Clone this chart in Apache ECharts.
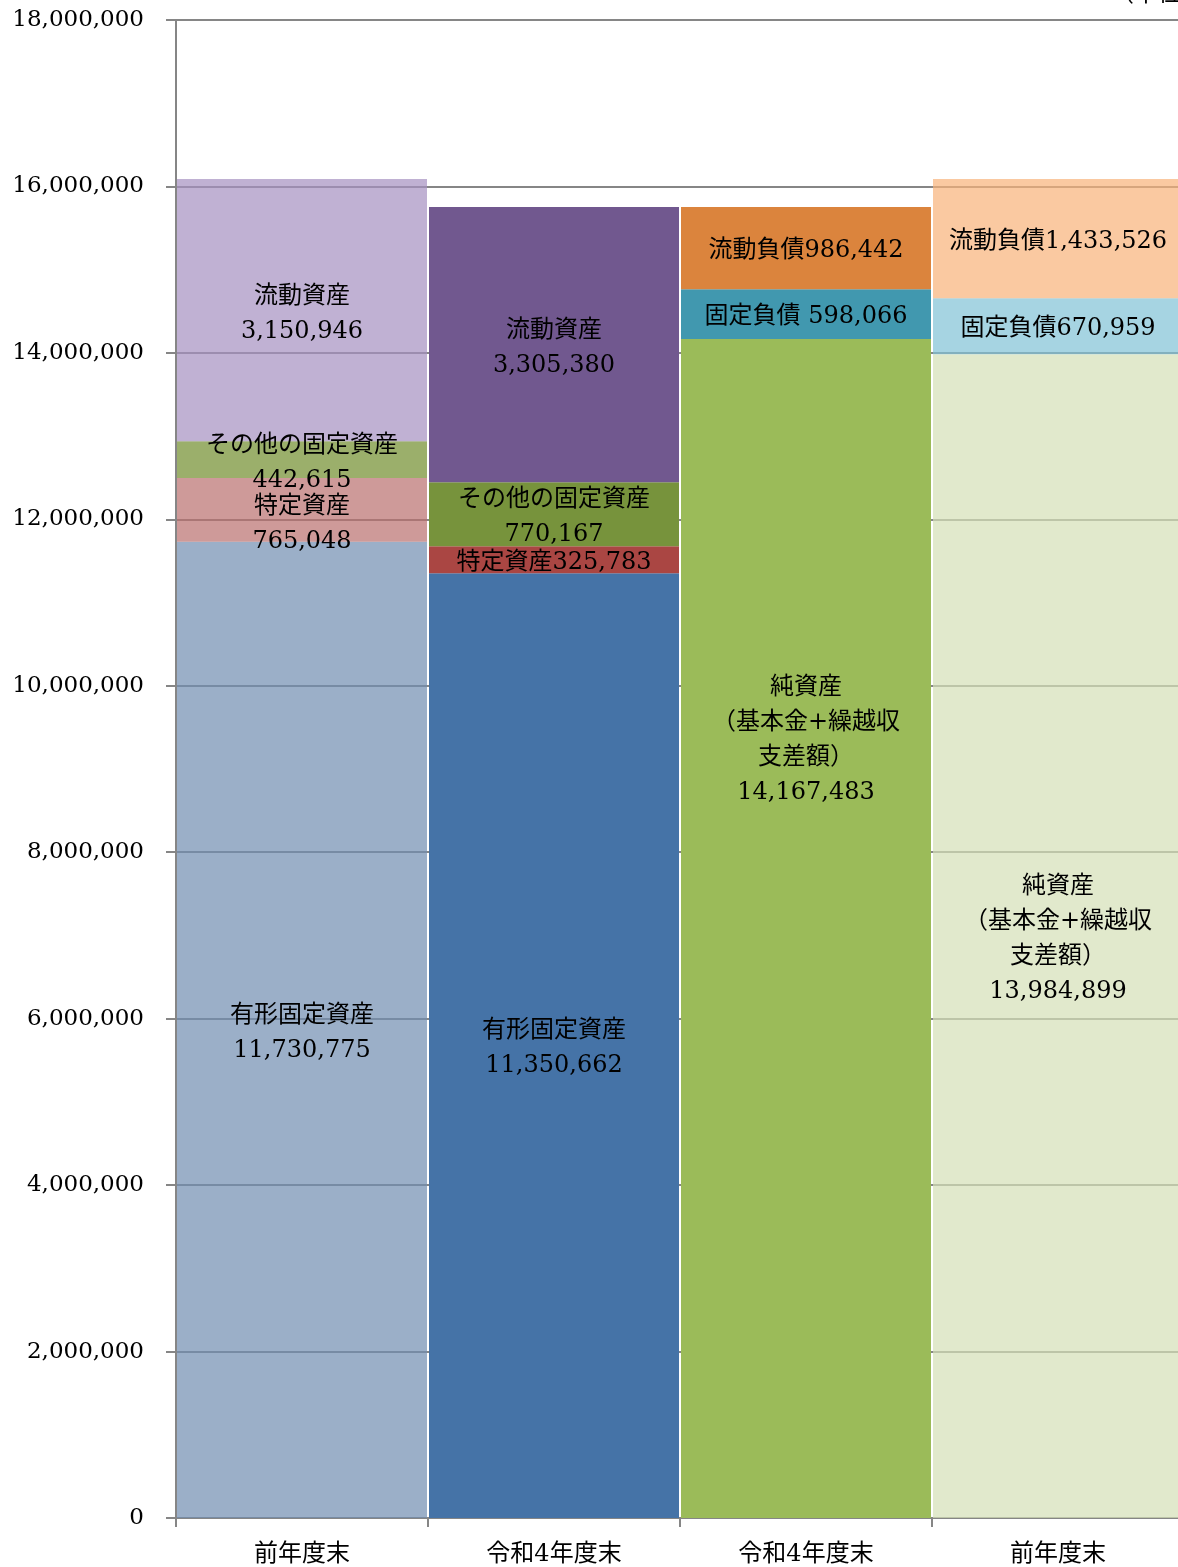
<!DOCTYPE html>
<html lang="ja" style="height: 100%; overflow: hidden">
  <head>
    <meta charset="utf-8" />
    <script src="https://cdn.jsdelivr.net/npm/echarts@6/dist/echarts.min.js"></script>
  </head>
  <body style="height: 100%; margin: 0; background: #fff; overflow: hidden">
    <div id="container" style="width: 1186px; height: 1567px"></div>
    <script type="text/javascript">
      // 区分
      const categories = ["前年度末", "令和4年度末", "令和4年度末", "前年度末"];

      // 下から順に積み上げる
      const layer1 = [11730775, 11350662, 14167483, 13984899];
      const layer2 = [765048, 325783, 598066, 670959];
      const layer3 = [442615, 770167, "-", "-"];
      const layer4 = [3150946, 3305380, 986442, 1433526];

      const names1 = ["有形固定資産", "有形固定資産", "純資産\n（基本金+繰越収\n支差額）", "純資産\n（基本金+繰越収\n支差額）"];
      const names2 = ["特定資産", "特定資産", "固定負債", "固定負債"];
      const names3 = ["その他の固定資産", "その他の固定資産", "", ""];
      const names4 = ["流動資産", "流動資産", "流動負債", "流動負債"];

      // 名前と金額の区切り
      const sep1 = ["\n", "\n", "\n", "\n"];
      const sep2 = ["\n", "", " ", ""];
      const sep3 = ["\n", "\n", "", ""];
      const sep4 = ["\n", "\n", "", ""];

      const yTicks = [0, 2000000, 4000000, 6000000, 8000000, 10000000, 12000000, 14000000, 16000000, 18000000];

      // 色（前年度末は半透明で目盛線が透ける）
      const colors1 = ["rgba(112,141,176,0.7)", "#4573A7", "#9BBB59", "rgba(212,224,182,0.7)"];
      const colors2 = ["rgba(185,111,109,0.7)", "#AA4643", "#4198AF", "rgba(128,194,214,0.7)"];
      const colors3 = ["rgba(112,141,44,0.7)", "#77933C", "#fff", "#fff"];
      const colors4 = ["rgba(165,144,192,0.7)", "#71588F", "#DB843D", "rgba(248,178,121,0.7)"];

      const labelOffsets1 = [[0, 3], [0, 3], [0, -188], [0, 3]];
      const labelOffsets2 = [[0, 14], [0, 3], [0, 3], [0, 3]];
      const labelOffsets3 = [[0, 4], [0, 3], [0, 0], [0, 0]];
      const labelOffsets4 = [[0, 4], [0, 4], [0, 3], [0, 3]];

      const FONT = "'DejaVu Serif', 'Noto Sans CJK JP', serif";

      function fmt(v) {
        return Number(v).toLocaleString("en-US");
      }

      function buildData(values, names, seps, colors, offsets) {
        return values.map(function (v, i) {
          if (v === "-") return "-";
          return {
            value: v,
            itemStyle: { color: colors[i] },
            label: {
              formatter: names[i] + seps[i] + fmt(v),
              offset: offsets[i],
            },
          };
        });
      }

      function makeSeries(name, data) {
        return {
          name: name,
          type: "bar",
          stack: "total",
          barWidth: 250,
          data: data,
          label: {
            show: true,
            position: "inside",
            color: "#000",
            fontFamily: FONT,
            fontSize: 24,
            lineHeight: 35,
          },
          emphasis: { disabled: true },
        };
      }

      var dom = document.getElementById("container");
      var myChart = echarts.init(dom, null, { renderer: "canvas" });

      var option = {
        animation: false,
        backgroundColor: "#fff",
        grid: { left: 176, top: 20, width: 1008, height: 1498, containLabel: false },
        graphic: [
          {
            type: "text",
            left: 1110,
            top: -17,
            style: { text: "（単位：千円）", fontFamily: FONT, fontSize: 24, fill: "#000" },
          },
        ],
        xAxis: {
          type: "category",
          data: categories,
          axisLine: { lineStyle: { color: "#868686", width: 2 } },
          axisTick: { show: true, length: 9, lineStyle: { color: "#868686", width: 2 } },
          axisLabel: { color: "#000", fontFamily: FONT, fontSize: 24, margin: 25 },
        },
        yAxis: {
          type: "value",
          min: yTicks[0],
          max: yTicks[yTicks.length - 1],
          interval: yTicks[1] - yTicks[0],
          axisLine: { show: true, lineStyle: { color: "#868686", width: 2 } },
          axisTick: { show: true, length: 10, lineStyle: { color: "#868686", width: 2 } },
          axisLabel: {
            color: "#000",
            fontFamily: FONT,
            fontSize: 23,
            margin: 32,
            formatter: function (v) {
              return fmt(v);
            },
          },
          splitLine: { lineStyle: { color: "#868686", width: 2 } },
        },
        series: [
          makeSeries("layer1", buildData(layer1, names1, sep1, colors1, labelOffsets1)),
          makeSeries("layer2", buildData(layer2, names2, sep2, colors2, labelOffsets2)),
          makeSeries("layer3", buildData(layer3, names3, sep3, colors3, labelOffsets3)),
          makeSeries("layer4", buildData(layer4, names4, sep4, colors4, labelOffsets4)),
        ],
      };

      myChart.setOption(option);
      window.addEventListener("resize", myChart.resize);
    </script>
  </body>
</html>
